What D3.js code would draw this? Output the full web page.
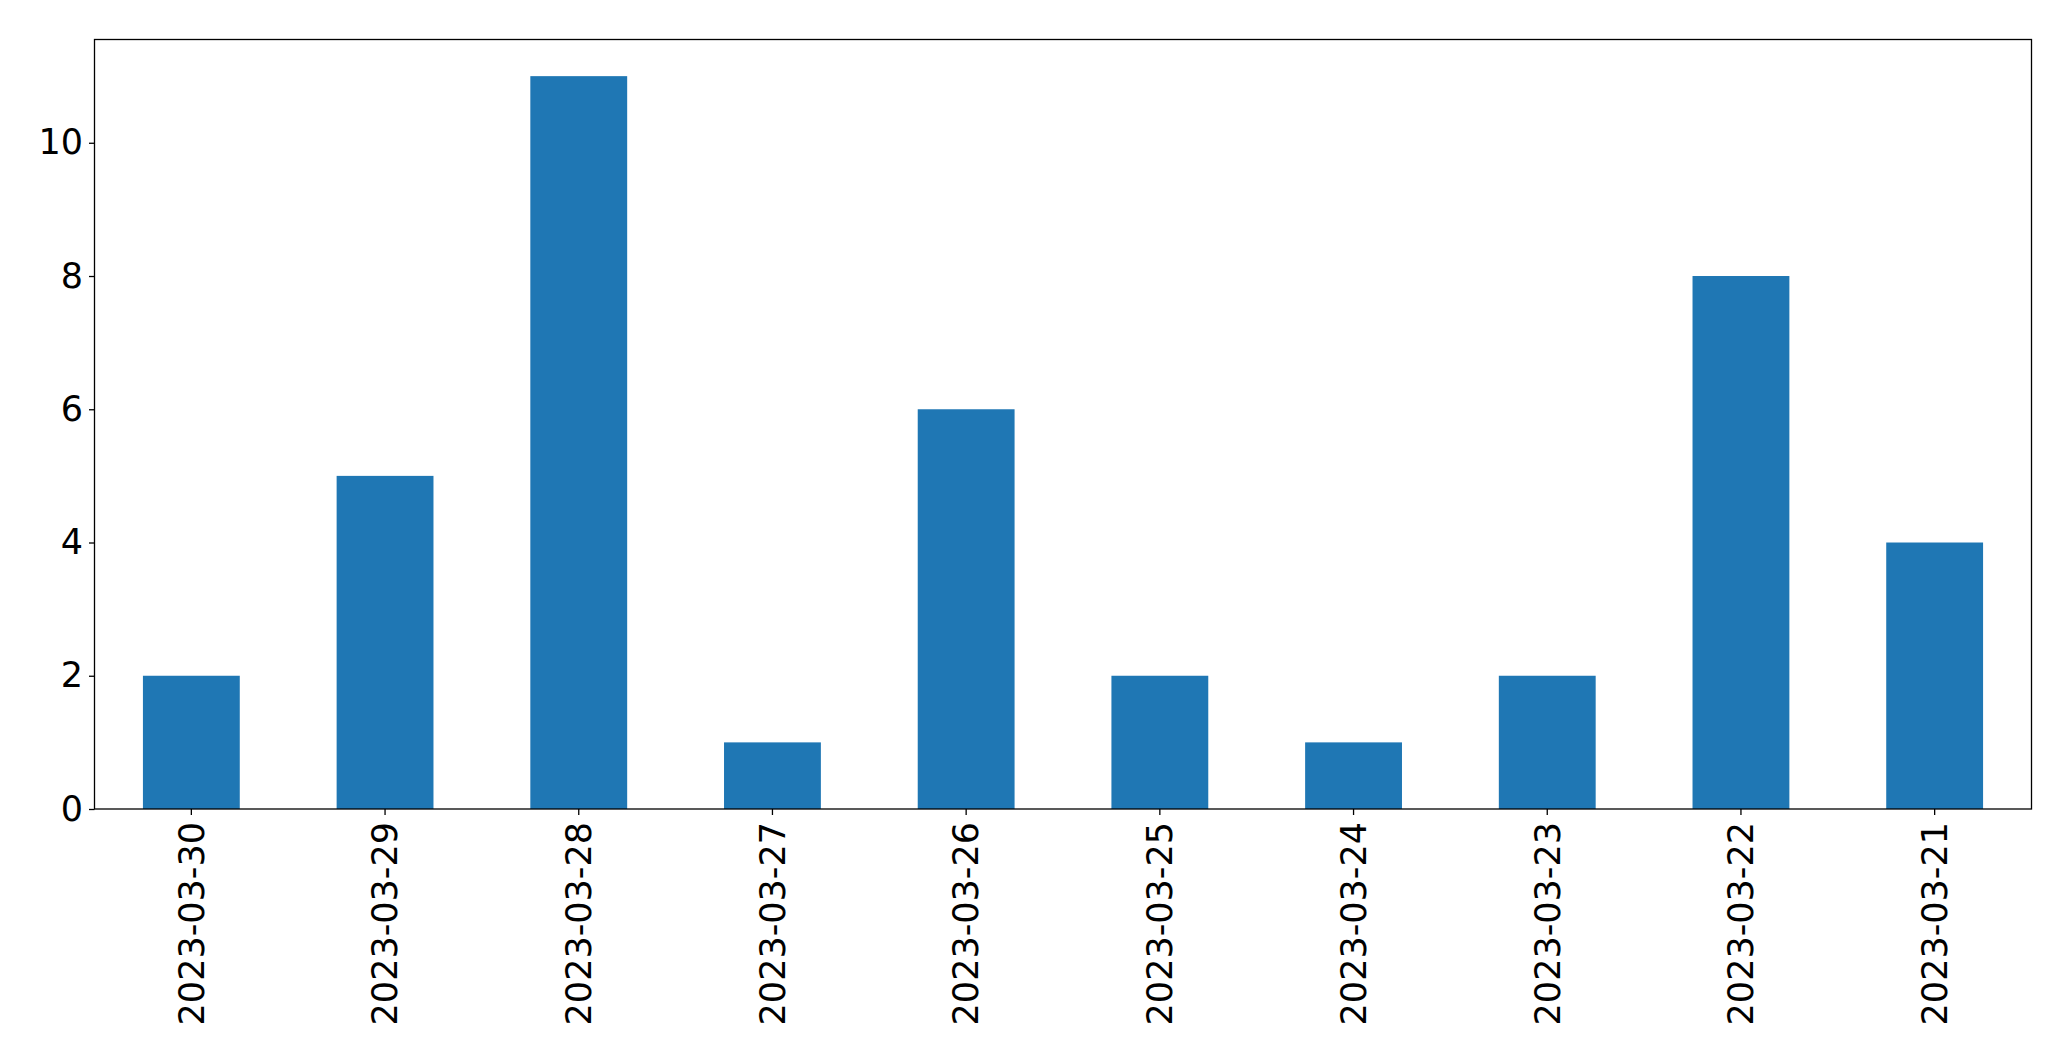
<!DOCTYPE html>
<html><head><meta charset="utf-8">
<script src="https://cdn.jsdelivr.net/npm/d3@7"></script>
<style>body{margin:0;background:#fff}svg{display:block}</style>
</head><body>
<script>
const categories = ["2023-03-30","2023-03-29","2023-03-28","2023-03-27","2023-03-26","2023-03-25","2023-03-24","2023-03-23","2023-03-22","2023-03-21"];
const values = [2,5,11,1,6,2,1,2,8,4];
const yTicks = [0,2,4,6,8,10];

const W = 2071, H = 1061;
const m = {left:94.5, right:2071-2031.5, top:39.5, bottom:1061-809};
const svg = d3.select("body").append("svg").attr("width",W).attr("height",H);
const pw = W-m.left-m.right, ph = H-m.top-m.bottom;
const g = svg.append("g").attr("transform",`translate(${m.left},${m.top})`);

const x = d3.scaleBand().domain(categories).range([0,pw]).paddingInner(0.5).paddingOuter(0.25);
const y = d3.scaleLinear().domain([0, d3.max(values)*1.05]).range([ph,0]);

g.selectAll("rect.bar").data(values).join("rect").attr("class","bar")
 .attr("x",(d,i)=>x(categories[i])).attr("width",x.bandwidth())
 .attr("y",d=>y(d)).attr("height",d=>ph-y(d)).attr("fill","#1f77b4");

const font = "'DejaVu Sans', sans-serif";
const ya = g.append("g").call(d3.axisLeft(y).tickValues(yTicks).tickFormat(d3.format("d")).tickSize(5.5).tickPadding(6));
ya.select(".domain").remove();
ya.selectAll("text").attr("font-family",font).attr("font-size",35).attr("fill","#000");
ya.selectAll("line").attr("stroke","#000").attr("stroke-width",1.3);

const xa = g.append("g").attr("transform",`translate(0,${ph})`).call(d3.axisBottom(x).tickSize(6).tickPadding(10));
xa.select(".domain").remove();
xa.selectAll("line").attr("stroke","#000").attr("stroke-width",1.3);
xa.selectAll("text").attr("font-family",font).attr("font-size",35).attr("fill","#000")
  .attr("transform","rotate(-90)").attr("text-anchor","end")
  .attr("x",-13).attr("y",0).attr("dy","0.35em");

g.append("rect").attr("x",0).attr("y",0).attr("width",pw).attr("height",ph)
 .attr("fill","none").attr("stroke","#000").attr("stroke-width",1.3);
</script>
</body></html>
